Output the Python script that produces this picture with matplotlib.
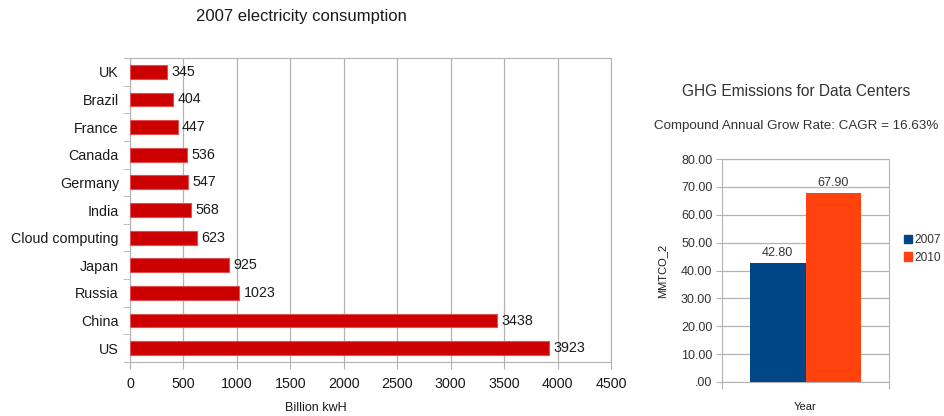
import numpy as np
import matplotlib
matplotlib.use("Agg")
import matplotlib.pyplot as plt
from matplotlib.patches import Patch
from matplotlib.ticker import FuncFormatter, MultipleLocator

plt.rcParams["font.family"] = ["Liberation Sans", "DejaVu Sans"]

# 2007 electricity consumption, billion kWh
countries = ["UK", "Brazil", "France", "Canada", "Germany", "India",
             "Cloud computing", "Japan", "Russia", "China", "US"]
consumption = [345, 404, 447, 536, 547, 568, 623, 925, 1023, 3438, 3923]

# GHG emissions for data centers, MMTCO_2
years = ["2007", "2010"]
emissions = [42.80, 67.90]
year_colors = ["#004586", "#ff420e"]

GRID = "#b3b3b3"
TEXT = "#1a1a1a"
W, H = 944, 416

fig = plt.figure(figsize=(W / 100, H / 100), dpi=100)


def box(x0, y0, x1, y1):
    # pixel box (top-left origin) -> figure fraction rect
    return [x0 / W, 1 - y1 / H, (x1 - x0) / W, (y1 - y0) / H]


# ---- left: horizontal bars ------------------------------------------------
ax = fig.add_axes(box(130, 58, 611, 362))
ypos = np.arange(len(countries))
ax.barh(ypos, consumption, height=0.5, color="#cc0000",
        edgecolor="#e05050", linewidth=0.8, zorder=3)
for y, v in zip(ypos, consumption):
    ax.text(v + 40, y, str(v), va="center", ha="left", fontsize=10.3,
            color=TEXT, zorder=4)

ax.set_xlim(0, 4500)
ax.set_ylim(len(countries) - 0.5, -0.5)
ax.xaxis.set_major_locator(MultipleLocator(500))
ax.set_yticks(ypos)
ax.set_yticklabels(countries)
ax.set_yticks(np.arange(-0.5, len(countries)), minor=True)
ax.tick_params(axis="y", which="major", length=0, pad=8, labelsize=10.3,
               labelcolor=TEXT)
ax.tick_params(axis="y", which="minor", length=5, color=GRID, direction="out")
ax.tick_params(axis="x", length=5, color=GRID, pad=6, labelsize=10.3,
               labelcolor=TEXT)
ax.grid(axis="x", color=GRID, linewidth=0.9, zorder=0)
for s in ax.spines.values():
    s.set_color(GRID)
fig.text(316 / W, 1 - 408 / H, "Billion kwH", ha="center", va="center",
         fontsize=9, color=TEXT)
fig.text(301 / W, 1 - 17 / H, "2007 electricity consumption", ha="center",
         va="center", fontsize=12, color=TEXT)

# ---- right: grouped bars --------------------------------------------------
ax2 = fig.add_axes(box(722, 159, 889, 382))
bw = 0.335
offsets = [-bw / 2, bw / 2]
for off, v, c in zip(offsets, emissions, year_colors):
    ax2.bar(off, v, width=bw, color=c, zorder=3)
    ax2.text(off, v + 1.2, f"{v:.2f}", ha="center", va="bottom", fontsize=9,
             color="#333333", zorder=4)

ax2.set_xlim(-0.5, 0.5)
ax2.set_ylim(0, 80)
ax2.yaxis.set_major_locator(MultipleLocator(10))
ax2.yaxis.set_major_formatter(
    FuncFormatter(lambda v, p: f"{v:.2f}".lstrip("0") if v < 1 else f"{v:.2f}"))
ax2.set_xticks([-0.5, 0.5])
ax2.set_xticklabels([])
ax2.tick_params(axis="x", length=5, color=GRID)
ax2.tick_params(axis="y", length=4, color=GRID, labelsize=9,
                labelcolor="#333333", pad=3)
ax2.grid(axis="y", color=GRID, linewidth=0.9, zorder=0)
for s in ax2.spines.values():
    s.set_color(GRID)
ax2.set_xlabel("Year", fontsize=8, color=TEXT, labelpad=6)
ax2.set_ylabel("MMTCO_2", fontsize=8, color=TEXT, labelpad=10)

fig.text(796 / W, 1 - 91 / H, "GHG Emissions for Data Centers", ha="center",
         va="center", fontsize=11.2, color="#333333")
fig.text(796 / W, 1 - 126 / H, "Compound Annual Grow Rate: CAGR = 16.63%",
         ha="center", va="center", fontsize=9.6, color="#333333")

handles = [Patch(color=c, label=y) for y, c in zip(years, year_colors)]
fig.legend(handles=handles, loc="center left",
           bbox_to_anchor=(904 / W, 1 - 249 / H), frameon=False, fontsize=8.6,
           handlelength=0.7, handleheight=0.7, handletextpad=0.15,
           labelspacing=0.45, borderpad=0, borderaxespad=0,
           labelcolor="#333333")

fig.savefig("out.png", dpi=100)
